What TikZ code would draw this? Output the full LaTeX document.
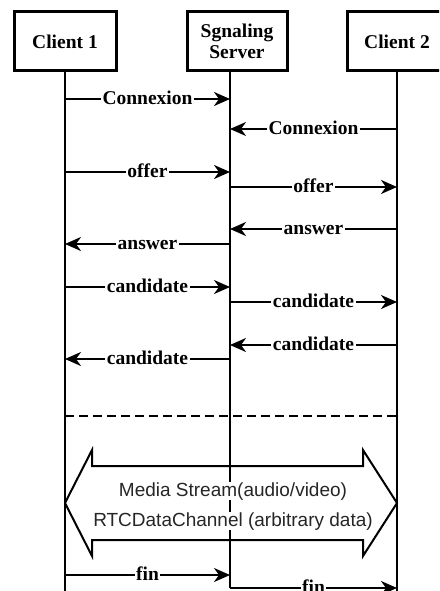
\documentclass[tikz,border=0pt]{standalone}
\usepackage{fontspec}
\setmainfont{Liberation Serif}
\setsansfont{Liberation Sans}
\usetikzlibrary{arrows.meta}
\begin{document}
\begin{tikzpicture}[x=1pt,y=-1pt,
  box/.style={draw, line width=3pt, minimum height=59pt, inner sep=0pt,
    align=center, font=\bfseries\fontsize{19.5}{20.5}\selectfont},
  life/.style={line width=2pt},
  msg/.style={line width=2pt, -{Stealth[length=16pt,width=14pt,inset=5pt]}},
  lbl/.style={fill=white, inner xsep=1.5pt, inner ysep=0pt, anchor=base, yshift=-5.5pt,
    font=\bfseries\fontsize{19.5}{20.5}\selectfont},
  stream/.style={line width=2pt, line join=miter},
  streamtxt/.style={fill=white, anchor=base, inner xsep=0pt, inner ysep=0.5pt,
    text=black!85, font=\sffamily\fontsize{19}{21}\selectfont},
  sep/.style={line width=2pt, dash pattern=on 9pt off 5pt}]
\useasboundingbox (0,0) rectangle (439,591);
\clip (0,0) rectangle (439,591);
% participants
\node[box, minimum width=102pt] (c1) at (65,41.5) {Client 1};
\node[box, minimum width=100pt] (srv) at (237,41.5) {Sgnaling\\Server};
\node[box, minimum width=100pt] (c2) at (397,41.5) {Client 2};
% lifeline anchors
\coordinate (A) at (65,71);
\coordinate (B) at (230,71);
\coordinate (C) at (397,71);
\draw[life] (A) -- (A |- 0,591);
\draw[life] (B) -- (B |- 0,588);
\draw[life] (C) -- (C |- 0,591);
% messages
\draw[msg] (A |- 0,99)  -- node[lbl]{Connexion} (B |- 0,99);
\draw[msg] (C |- 0,129) -- node[lbl]{Connexion} (B |- 0,129);
\draw[msg] (A |- 0,172) -- node[lbl]{offer} (B |- 0,172);
\draw[msg] (B |- 0,187) -- node[lbl]{offer} (C |- 0,187);
\draw[msg] (C |- 0,229) -- node[lbl]{answer} (B |- 0,229);
\draw[msg] (B |- 0,244) -- node[lbl]{answer} (A |- 0,244);
\draw[msg] (A |- 0,287) -- node[lbl]{candidate} (B |- 0,287);
\draw[msg] (B |- 0,302) -- node[lbl]{candidate} (C |- 0,302);
\draw[msg] (C |- 0,345) -- node[lbl]{candidate} (B |- 0,345);
\draw[msg] (B |- 0,359) -- node[lbl]{candidate} (A |- 0,359);
% separator
\draw[sep] (A |- 0,416) -- (C |- 0,416);
% peer-to-peer double arrow
\draw[stream] (65,503) -- (92,450) -- (92,466) -- (363,466) -- (363,450)
  -- (397,503) -- (363,556) -- (363,540) -- (92,540) -- (92,556) -- cycle;
\node[streamtxt] (ms) at (233,496) {Media Stream(audio/video)};
\node[streamtxt] (dc) at (233,526) {RTCDataChannel (arbitrary data)};
% end
\draw[msg] (A |- 0,575) -- node[lbl]{fin} (B |- 0,575);
\draw[msg] (B |- 0,588) -- node[lbl]{fin} (C |- 0,588);
\end{tikzpicture}
\end{document}
